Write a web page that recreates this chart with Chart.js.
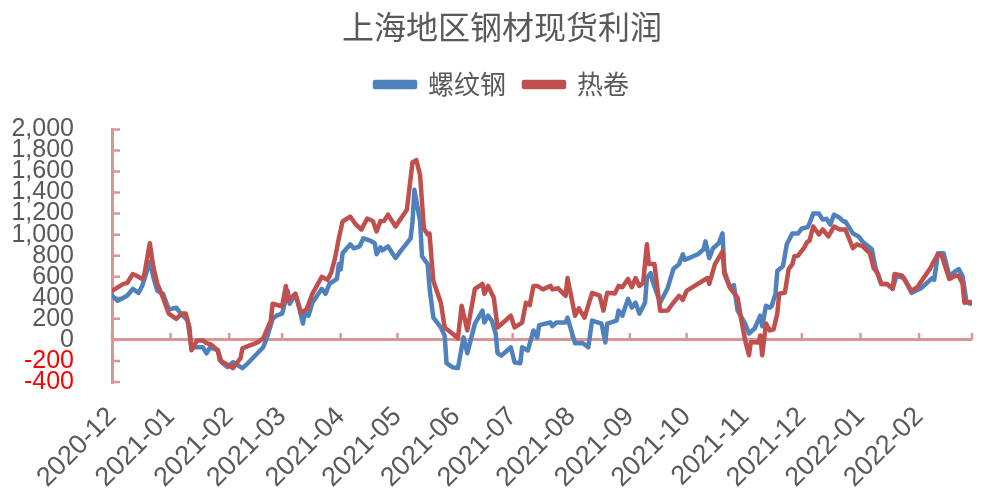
<!DOCTYPE html>
<html>
<head>
<meta charset="utf-8">
<script src="https://cdn.jsdelivr.net/npm/chart.js@4/dist/chart.umd.min.js"></script>
<style>
  html, body { margin: 0; padding: 0; background: #fff; }
  #wrap { width: 982px; height: 493px; position: relative; }
</style>
</head>
<body>
<div id="wrap"><canvas id="profitChart"></canvas></div>
<script>
// 螺纹钢
let rebarDates = [
  '2020-12-01','2020-12-04','2020-12-09','2020-12-12','2020-12-15','2020-12-17','2020-12-21','2020-12-23','2020-12-25','2020-12-28',
  '2020-12-31','2021-01-04','2021-01-06','2021-01-10','2021-01-12','2021-01-15','2021-01-18','2021-01-20','2021-01-22','2021-01-26',
  '2021-01-28','2021-01-31','2021-02-03','2021-02-08','2021-02-11','2021-02-19','2021-02-21','2021-02-24','2021-02-26','2021-03-01',
  '2021-03-04','2021-03-05','2021-03-08','2021-03-10','2021-03-12','2021-03-13','2021-03-15','2021-03-17','2021-03-22','2021-03-24',
  '2021-03-26','2021-03-30','2021-03-31','2021-04-01','2021-04-02','2021-04-06','2021-04-08','2021-04-11','2021-04-13','2021-04-17',
  '2021-04-19','2021-04-20','2021-04-22','2021-04-23','2021-04-26','2021-04-30','2021-05-03','2021-05-08','2021-05-09','2021-05-10',
  '2021-05-13','2021-05-14','2021-05-17','2021-05-18','2021-05-20','2021-05-24','2021-05-26','2021-05-27','2021-05-30','2021-06-02',
  '2021-06-05','2021-06-07','2021-06-11','2021-06-15','2021-06-16','2021-06-18','2021-06-20','2021-06-22','2021-06-23','2021-06-25',
  '2021-06-30','2021-07-02','2021-07-05','2021-07-06','2021-07-09','2021-07-12','2021-07-14','2021-07-15','2021-07-21','2021-07-22',
  '2021-07-24','2021-07-29','2021-07-30','2021-08-03','2021-08-07','2021-08-10','2021-08-12','2021-08-17','2021-08-19','2021-08-20',
  '2021-08-25','2021-08-26','2021-08-28','2021-08-31','2021-09-02','2021-09-04','2021-09-06','2021-09-09','2021-09-10','2021-09-12',
  '2021-09-13','2021-09-17','2021-09-21','2021-09-24','2021-09-27','2021-09-29','2021-09-30','2021-10-07','2021-10-10','2021-10-11',
  '2021-10-13','2021-10-15','2021-10-18','2021-10-20','2021-10-21','2021-10-24','2021-10-26','2021-10-28','2021-11-01','2021-11-03',
  '2021-11-06','2021-11-09','2021-11-10','2021-11-12','2021-11-14','2021-11-15','2021-11-17','2021-11-18','2021-11-21','2021-11-23',
  '2021-11-26','2021-11-29','2021-12-01','2021-12-04','2021-12-05','2021-12-07','2021-12-10','2021-12-12','2021-12-14','2021-12-16',
  '2021-12-18','2021-12-21','2021-12-23','2021-12-24','2021-12-28','2021-12-31','2022-01-02','2022-01-07','2022-01-09','2022-01-10',
  '2022-01-12','2022-01-15','2022-01-18','2022-01-20','2022-01-24','2022-01-28','2022-02-02','2022-02-08','2022-02-09','2022-02-11',
  '2022-02-14','2022-02-17','2022-02-20','2022-02-22','2022-02-24','2022-02-26','2022-02-28'
];
let rebarValues = [
  420, 372, 420, 485, 447, 513, 740, 588, 466, 438,
  290, 306, 259, 184, -70, -70, -70, -127, -70, -100,
  -212, -259, -212, -268, -220, -70, 24, 200, 230, 250,
  466, 343, 438, 307, 155, 250, 230, 353, 485, 438,
  532, 579, 720, 670, 823, 908, 870, 889, 965, 940,
  918, 814, 880, 850, 889, 777, 850, 965, 1125, 1426,
  1125, 795, 720, 494, 212, 118, 40, -221, -259, -268,
  24, -127, 155, 278, 165, 230, 180, 61, -127, -150,
  -70, -212, -221, -70, -100, 90, 24, 140, 165, 130,
  165, 165, 212, -33, -30, -70, 184, 155, -24, 155,
  184, 278, 230, 390, 307, 353, 250, 353, 588, 635,
  560, 353, 494, 673, 720, 814, 760, 814, 861, 936,
  777, 871, 918, 1012, 654, 494, 520, 278, 155, 61,
  108, 230, 130, 325, 306, 320, 438, 654, 701, 908,
  1012, 1012, 1059, 1070, 1106, 1200, 1200, 1143, 1150, 1096,
  1190, 1160, 1125, 1125, 1012, 983, 936, 861, 682, 635,
  532, 532, 485, 607, 590, 447, 490, 588, 570, 823,
  823, 607, 650, 673, 607, 372, 343
];

// 热卷
let coilDates = [
  '2020-12-01','2020-12-07','2020-12-09','2020-12-12','2020-12-14','2020-12-17','2020-12-18','2020-12-21','2020-12-23','2020-12-25',
  '2020-12-28','2020-12-31','2021-01-04','2021-01-07','2021-01-09','2021-01-11','2021-01-12','2021-01-15','2021-01-18','2021-01-20',
  '2021-01-22','2021-01-26','2021-01-27','2021-02-03','2021-02-07','2021-02-08','2021-02-16','2021-02-19','2021-02-23','2021-02-24',
  '2021-03-01','2021-03-03','2021-03-04','2021-03-08','2021-03-11','2021-03-14','2021-03-17','2021-03-22','2021-03-25','2021-03-27',
  '2021-03-29','2021-03-31','2021-04-02','2021-04-06','2021-04-09','2021-04-12','2021-04-15','2021-04-18','2021-04-20','2021-04-22',
  '2021-04-24','2021-04-26','2021-04-30','2021-05-06','2021-05-09','2021-05-11','2021-05-13','2021-05-15','2021-05-17','2021-05-18',
  '2021-05-20','2021-05-24','2021-05-26','2021-05-30','2021-06-02','2021-06-04','2021-06-07','2021-06-11','2021-06-15','2021-06-16',
  '2021-06-18','2021-06-21','2021-06-23','2021-06-26','2021-06-30','2021-07-02','2021-07-06','2021-07-08','2021-07-10','2021-07-12',
  '2021-07-14','2021-07-17','2021-07-21','2021-07-22','2021-07-25','2021-07-29','2021-07-30','2021-08-03','2021-08-05','2021-08-08',
  '2021-08-12','2021-08-16','2021-08-18','2021-08-20','2021-08-24','2021-08-26','2021-08-28','2021-08-31','2021-09-02','2021-09-04',
  '2021-09-06','2021-09-08','2021-09-10','2021-09-11','2021-09-14','2021-09-17','2021-09-21','2021-09-24','2021-09-27','2021-09-29',
  '2021-10-01','2021-10-12','2021-10-13','2021-10-16','2021-10-20','2021-10-21','2021-10-24','2021-10-28','2021-10-30','2021-11-01',
  '2021-11-03','2021-11-04','2021-11-08','2021-11-09','2021-11-10','2021-11-12','2021-11-14','2021-11-16','2021-11-18','2021-11-19',
  '2021-11-22','2021-11-24','2021-11-26','2021-11-27','2021-11-29','2021-12-02','2021-12-04','2021-12-05','2021-12-07','2021-12-10',
  '2021-12-12','2021-12-15','2021-12-18','2021-12-21','2021-12-24','2021-12-28','2021-12-30','2022-01-02','2022-01-06','2022-01-08',
  '2022-01-10','2022-01-12','2022-01-15','2022-01-18','2022-01-19','2022-01-23','2022-01-28','2022-01-31','2022-02-07','2022-02-08',
  '2022-02-11','2022-02-13','2022-02-17','2022-02-20','2022-02-22','2022-02-24','2022-02-25','2022-02-28'
];
let coilValues = [
  466, 532, 540, 626, 610, 579, 610, 918, 682, 532,
  400, 250, 200, 250, 250, 118, -99, -5, -5, -30,
  -40, -99, -193, -268, -174, -80, -24, 14, 184, 343,
  320, 513, 372, 438, 259, 290, 438, 600, 570, 640,
  777, 965, 1125, 1172, 1096, 1049, 1153, 1130, 1030, 1130,
  1130, 1190, 1077, 1237, 1689, 1708, 1567, 1059, 1002, 1010,
  560, 353, 118, 61, 14, 325, 90, 485, 532, 438,
  513, 400, 118, 165, 230, 118, 165, 353, 330, 513,
  513, 480, 513, 480, 490, 419, 588, 230, 300, 212,
  447, 420, 278, 447, 440, 513, 500, 579, 500, 588,
  513, 540, 908, 720, 720, 278, 280, 353, 419, 380,
  466, 588, 532, 720, 842, 626, 494, 400, 184, -5,
  -146, -20, -24, 42, -146, 155, 90, 100, 250, 438,
  450, 673, 720, 795, 800, 871, 936, 940, 1077, 1002,
  1049, 983, 1077, 1049, 1049, 871, 908, 890, 823, 682,
  635, 532, 532, 485, 626, 610, 466, 500, 682, 720,
  814, 800, 579, 610, 610, 532, 353, 360
];

// подписи месяцев по оси X
let monthLabels = ['2020-12','2021-01','2021-02','2021-03','2021-04','2021-05','2021-06','2021-07',
  '2021-08','2021-09','2021-10','2021-11','2021-12','2022-01','2022-02'];
let axisEnd = '2022-03-01';

let yTicks = [-400, -200, 0, 200, 400, 600, 800, 1000, 1200, 1400, 1600, 1800, 2000];

const axisColor = '#d99694';
const textColor = '#595959';

// день от начала оси
function dayOf(s) {
  let p = s.split('-').map(Number);
  if (p.length < 3) p.push(1);
  return (Date.UTC(p[0], p[1] - 1, p[2]) - Date.UTC(2020, 11, 1)) / 86400000;
}

let monthTicks = monthLabels.map(m => dayOf(m));
monthTicks.push(dayOf(axisEnd));

function points(dates, values) {
  return dates.map((d, i) => ({ x: dayOf(d), y: values[i] }));
}

// короткие засечки внутрь области графика
const innerTicks = {
  id: 'innerTicks',
  beforeInit(chart) {
    // отступ под легендой
    const fit = chart.legend.fit;
    chart.legend.fit = function () {
      fit.bind(chart.legend)();
      this.height += 22;
    };
  },
  afterUpdate(chart) {
    // заголовок и легенда чуть правее центра холста
    chart.titleBlock.left += 24;
    chart.legend.left += 24;
    chart.legend.adjustHitBoxes();
  },
  beforeDatasetsDraw(chart) {
    let c = chart.ctx;
    let xs = chart.scales.x, ys = chart.scales.y;
    let zero = ys.getPixelForValue(0);
    c.save();
    c.strokeStyle = axisColor;
    c.lineWidth = 2.5;
    c.beginPath();
    monthTicks.forEach(v => {
      let px = xs.getPixelForValue(v);
      c.moveTo(px, zero);
      c.lineTo(px, zero - 7);
    });
    yTicks.forEach(v => {
      let py = ys.getPixelForValue(v);
      c.moveTo(ys.right, py);
      c.lineTo(ys.right + 8, py);
    });
    c.stroke();
    c.restore();
  }
};

let ctx = document.getElementById('profitChart').getContext('2d');
let chart = new Chart(ctx, {
  type: 'line',
  data: {
    datasets: [{
      label: '螺纹钢',
      data: points(rebarDates, rebarValues),
      borderColor: '#4f81bd',
      backgroundColor: '#4f81bd',
      borderWidth: 4.5,
      order: 1
    },
    {
      label: '热卷',
      data: points(coilDates, coilValues),
      borderColor: '#c0504d',
      backgroundColor: '#c0504d',
      borderWidth: 4.5,
      order: 0
    }]
  },
  options: {
    responsive: true,
    maintainAspectRatio: false,
    animation: false,
    layout: { padding: { left: 8, right: 10, top: 4, bottom: 0 } },
    elements: {
      point: { radius: 0 },
      line: { tension: 0, borderJoinStyle: 'round', borderCapStyle: 'round' }
    },
    plugins: {
      title: {
        display: true,
        text: '上海地区钢材现货利润',
        color: textColor,
        font: { family: 'Noto Sans CJK SC', size: 32, weight: 'normal' },
        padding: { top: 4, bottom: 7 }
      },
      legend: {
        position: 'top',
        labels: {
          color: textColor,
          font: { family: 'Noto Sans CJK SC', size: 26 },
          boxWidth: 40,
          boxHeight: 5,
          padding: 18,
          sort: (a, b) => a.datasetIndex - b.datasetIndex
        }
      },
      tooltip: { enabled: false }
    },
    scales: {
      x: {
        type: 'linear',
        min: 0,
        max: dayOf(axisEnd),
        grid: { display: false },
        border: { display: false },
        afterBuildTicks: axis => { axis.ticks = monthTicks.map(v => ({ value: v })); },
        afterFit: axis => { axis.height = 111; axis.paddingLeft = 0; axis.paddingRight = 0; },
        ticks: {
          autoSkip: false,
          minRotation: 45,
          maxRotation: 45,
          padding: 11,
          color: textColor,
          font: { family: 'Liberation Sans', size: 27 },
          callback: (v, i) => monthLabels[i] || ''
        }
      },
      y: {
        min: -400,
        max: 2000,
        afterBuildTicks: axis => { axis.ticks = yTicks.map(v => ({ value: v })); },
        afterFit: axis => { axis.width = 104; },
        border: { display: true, color: axisColor, width: 3 },
        grid: {
          drawTicks: false,
          lineWidth: 3,
          color: c => (c.tick && c.tick.value === 0) ? axisColor : 'rgba(0,0,0,0)'
        },
        ticks: {
          autoSkip: false,
          padding: 38,
          color: c => c.tick.value < 0 ? '#ff0000' : textColor,
          font: { family: 'Liberation Sans', size: 25 },
          callback: v => v.toLocaleString('en-US')
        }
      }
    }
  },
  plugins: [innerTicks]
});
</script>
</body>
</html>
